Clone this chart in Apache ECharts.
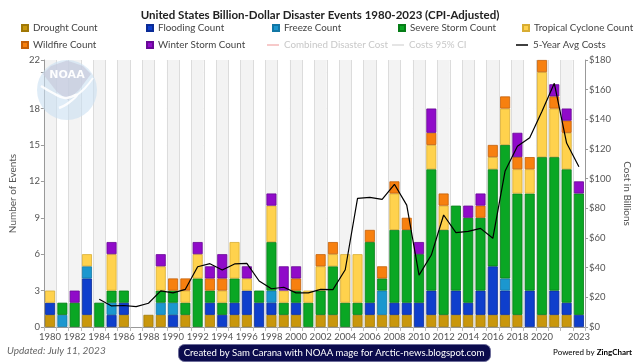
<!DOCTYPE html>
<html>
<head>
<meta charset="utf-8">
<script src="https://cdn.jsdelivr.net/npm/echarts@6/dist/echarts.min.js"></script>
<style>html,body{margin:0;padding:0;background:#fff;}#c{width:640px;height:362px;}</style>
</head>
<body>
<div id="c"></div>
<script>
const years = [];
for (let y = 1980; y <= 2023; y++) years.push(String(y));

const drought  = [1,0,0,1,0,0,1,0,1,1,0,1,0,1,0,1,1,0,1,1,1,0,1,1,0,1,1,1,1,1,0,1,1,1,1,1,1,1,1,0,1,1,1,0];
const flooding = [1,0,0,3,0,1,1,0,0,0,1,0,0,1,1,1,2,2,1,0,1,0,0,0,0,0,1,0,1,1,2,2,0,2,1,2,4,2,0,3,0,2,1,1];
const freeze   = [0,1,0,1,0,1,0,0,0,1,1,0,0,0,0,0,0,0,1,0,0,0,0,0,0,0,0,2,0,0,0,0,0,0,0,0,0,1,0,0,0,0,0,0];
const severe   = [0,1,2,0,2,1,1,0,0,1,1,1,4,1,1,2,0,1,4,1,1,2,2,4,2,1,5,1,6,6,4,10,7,7,7,6,8,11,10,8,13,11,11,10];
const tropical = [1,0,0,1,0,3,0,0,0,2,0,1,2,0,1,3,1,0,3,1,0,1,2,1,4,4,0,0,3,0,0,2,2,0,0,0,1,3,2,2,7,4,3,0];
const wildfire = [0,0,0,0,0,0,0,0,0,0,1,1,0,1,1,0,0,0,0,0,1,0,1,1,0,0,1,1,1,1,0,1,1,0,0,1,1,1,1,1,1,1,1,0];
const winter   = [0,0,1,0,0,1,0,0,0,1,0,0,1,1,2,0,1,0,1,2,1,0,0,0,0,0,0,0,0,0,1,2,0,0,1,1,0,0,2,0,0,1,1,1];
const avgCosts = [null,null,null,null,18.7,14.2,14.5,13.7,16.0,24.4,23.0,25.4,40.6,42.7,38.4,42.5,42.9,31.0,25.8,26.8,23.0,23.0,25.4,25.2,38.6,86.7,87.4,86.0,96.2,82.2,35.0,48.5,75.5,63.6,64.5,66.5,59.8,105.2,121.8,127.6,145.5,164.3,124.0,108.0];

const countTicksMax = 22;
const costTicksMax = 180;

const FONT = "Lato, sans-serif";

const barDefs = [
  ['Drought Count', drought, '#c9970c', '#a07806'],
  ['Flooding Count', flooding, '#0f3fcc', '#0a2b96'],
  ['Freeze Count', freeze, '#1b97cf', '#1277a5'],
  ['Severe Storm Count', severe, '#0aa724', '#067d17'],
  ['Tropical Cyclone Count', tropical, '#ffd24d', '#d8ad33'],
  ['Wildfire Count', wildfire, '#f7800f', '#c45f08'],
  ['Winter Storm Count', winter, '#900bc9', '#680896']
];

const series = barDefs.map(d => ({
  name: d[0], type: 'bar', stack: 'events', data: d[1].map(v => (v === 0 ? null : v)), barWidth: 10,
  itemStyle: { color: d[2], borderColor: d[3], borderWidth: 0.8 },
  emphasis: { disabled: true }
}));
series.push({ name: 'Combined Disaster Cost', type: 'line', yAxisIndex: 1, data: [], itemStyle: { color: '#f4b8b8' } });
series.push({ name: 'Costs 95% CI', type: 'line', yAxisIndex: 1, data: [], itemStyle: { color: '#dddddd' } });
series.push({
  name: '5-Year Avg Costs', type: 'line', yAxisIndex: 1, data: avgCosts,
  showSymbol: false, symbol: 'none', lineStyle: { color: '#000', width: 1.2 },
  itemStyle: { color: '#000' }, z: 5
});

const legendPos = [
  ['Drought Count', 21, 23, 'sq'], ['Flooding Count', 146, 23, 'sq'], ['Freeze Count', 272, 23, 'sq'],
  ['Severe Storm Count', 398, 23, 'sq'], ['Tropical Cyclone Count', 522, 23, 'sq'],
  ['Wildfire Count', 21, 40, 'sq'], ['Winter Storm Count', 146, 40, 'sq'],
  ['Combined Disaster Cost', 267, 40, 'ln'], ['Costs 95% CI', 392, 40, 'ln'], ['5-Year Avg Costs', 516, 40, 'ln']
];
const legends = legendPos.map(p => ({
  left: p[1], top: p[2], padding: 0, orient: 'horizontal', selectedMode: false,
  itemWidth: p[3] === 'sq' ? 6 : 12, itemHeight: p[3] === 'sq' ? 6 : 1.5,
  data: [{ name: p[0], icon: 'rect' }],
  textStyle: {
    fontFamily: FONT, fontSize: 9.8,
    color: (p[0] === 'Combined Disaster Cost' || p[0] === 'Costs 95% CI') ? '#c8c8c8' : '#444'
  }
}));

const option = {
  animation: false,
  backgroundColor: '#fff',
  title: {
    text: 'United States Billion-Dollar Disaster Events 1980-2023 (CPI-Adjusted)',
    left: 'center', top: 4,
    textStyle: { fontFamily: FONT, fontSize: 11.5, fontWeight: 'bold', color: '#222' }
  },
  legend: legends,
  grid: { left: 35, right: 43, top: 60, bottom: 35 },
  xAxis: {
    type: 'category', data: years, boundaryGap: true,
    axisLine: { lineStyle: { color: '#999' } },
    axisTick: { show: true, interval: 0, length: 4, lineStyle: { color: '#bbb' } },
    axisLabel: {
      interval: 0, fontFamily: FONT, fontSize: 9.5, color: '#555', margin: 5,
      formatter: v => { const y = +v; return ((y % 2 === 0 && y <= 2020) || y === 2023) ? v : ''; }
    },
    splitLine: { show: true, interval: 0, lineStyle: { color: '#dcdcdc', width: 1 } },
    splitArea: { show: true, interval: 0, areaStyle: { color: ['#f3f3f3', '#ffffff'] } }
  },
  yAxis: [
    {
      type: 'value', min: 0, max: countTicksMax, interval: 3,
      name: 'Number of Events', nameLocation: 'middle', nameGap: 22,
      nameTextStyle: { fontFamily: FONT, fontSize: 10, color: '#555' },
      axisLine: { show: true, lineStyle: { color: '#999' } },
      axisTick: { show: true, length: 3, lineStyle: { color: '#999' } },
      axisLabel: { fontFamily: FONT, fontSize: 9.5, color: '#555', margin: 4,
        formatter: v => (v === 21 ? '' : String(v)) },
      splitLine: { show: true, lineStyle: { color: '#e6e6e6' } }
    },
    {
      type: 'value', min: 0, max: costTicksMax, interval: 20, position: 'right',
      name: 'Cost in Billions', nameLocation: 'middle', nameGap: 31, nameRotate: -90,
      nameTextStyle: { fontFamily: FONT, fontSize: 10, color: '#555' },
      axisLine: { show: true, lineStyle: { color: '#999' } },
      axisTick: { show: true, length: 3, lineStyle: { color: '#999' } },
      axisLabel: { fontFamily: FONT, fontSize: 9.5, color: '#555', margin: 4, formatter: v => '$' + v },
      splitLine: { show: false }
    }
  ],
  series: series,
  graphic: [
    {
      type: 'group', x: 37, y: 60, z: 100, silent: true,
      children: [
        { type: 'circle', z: 100, shape: { cx: 30, cy: 30, r: 30 }, style: { fill: '#c9e0f2', opacity: 0.6 } },
        { type: 'polygon', z: 101, shape: { points: [[6,14],[14,6],[30,0.5],[46,6],[54,14],[42,30],[31,40],[20,32]] }, style: { fill: '#c7cbdc', opacity: 0.7 } },
        { type: 'polyline', z: 102, shape: { points: [[4,26],[16,33],[28,38],[40,35],[30,44],[22,48]], smooth: 0.4 }, style: { fill: 'none', stroke: '#ffffff', lineWidth: 2.5, opacity: 0.9 } },
        { type: 'polyline', z: 102, shape: { points: [[40,35],[48,28],[56,18]], smooth: 0.4 }, style: { fill: 'none', stroke: '#ffffff', lineWidth: 2, opacity: 0.9 } },
        { type: 'text', z: 103, style: { text: 'NOAA', x: 30, y: 15, align: 'center', verticalAlign: 'middle', fill: '#ffffff', font: "bold 11px 'DejaVu Sans'", opacity: 0.95 } }
      ]
    },
    {
      type: 'text', left: 7, top: 346, silent: true,
      style: { text: 'Updated: July 11, 2023', fill: '#666', font: "italic 10px " + FONT }
    },
    {
      type: 'rect', left: 178, top: 344, silent: true, z: 100,
      shape: { width: 312, height: 17, r: 6 },
      style: { fill: '#0b0b4d', stroke: '#6d6d9a', lineWidth: 1 }
    },
    {
      type: 'text', x: 334, y: 352.5, silent: true, z: 101,
      style: { text: 'Created by Sam Carana with NOAA mage for Arctic-news.blogspot.com', x: 0, y: 0,
        align: 'center', verticalAlign: 'middle', fill: '#fff', font: "9.6px " + FONT }
    },
    {
      type: 'text', right: 8, top: 348, silent: true,
      style: {
        text: '{a|Powered by }{b|ZingChart}',
        rich: {
          a: { fontFamily: FONT, fontSize: 8, color: '#777' },
          b: { fontFamily: FONT, fontSize: 8, fontWeight: 'bold', color: '#333' }
        }
      }
    }
  ]
};

const chart = echarts.init(document.getElementById('c'), null, { renderer: 'canvas' });
chart.setOption(option);
</script>
</body>
</html>
